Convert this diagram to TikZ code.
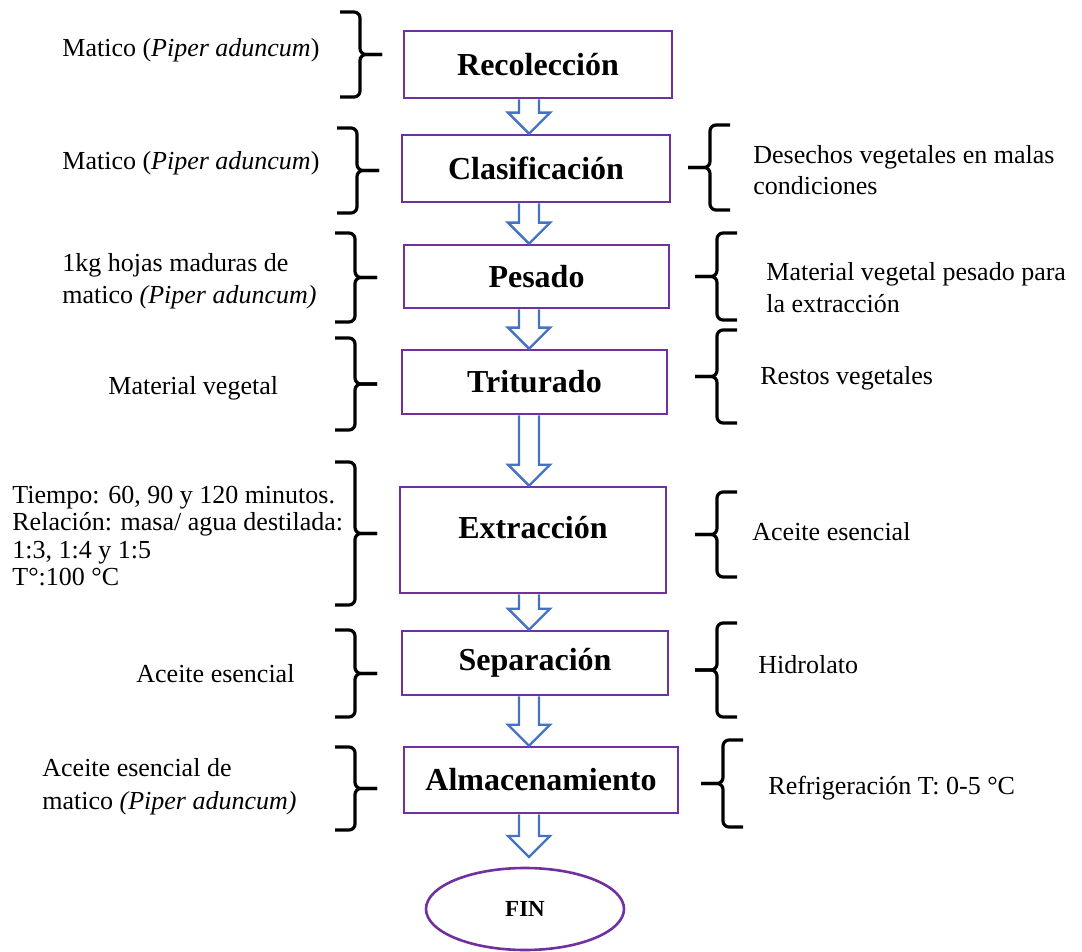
\documentclass[tikz,border=0pt]{standalone}
\usepackage{fontspec}
\setmainfont{Liberation Serif}
\usetikzlibrary{shapes.geometric,calc}

\definecolor{morado}{HTML}{7030A0}
\definecolor{azulflecha}{HTML}{4472C4}

\tikzset{
  paso/.style={draw=morado, line width=1.3pt, inner sep=0pt,
    font=\fontsize{16}{18}\selectfont\bfseries},
  terminal/.style={ellipse, draw=morado, line width=1.3pt, inner sep=0pt,
    minimum width=99pt, minimum height=41pt, font=\fontsize{11.5}{13}\selectfont\bfseries},
  texto/.style={anchor=west, align=left, inner sep=0pt, font=\fontsize{13}{16}\selectfont},
  flechastyle/.style={draw=azulflecha, line width=1.2pt, line join=miter},
  llavestyle/.style={line width=1.6pt, rounded corners=3pt},
}

% flecha hueca entre dos pasos
\newcommand\flecha[2]{%
  \draw[flechastyle] let \p1=(#1 -| eje), \p2=(#2 -| eje) in
    (\x1-5pt,\y1) -- (\x1-5pt,\y2+10.5pt) -- (\x1-10.5pt,\y2+10.5pt) -- (\x1,\y2)
    -- (\x1+10.5pt,\y2+10.5pt) -- (\x1+5pt,\y2+10.5pt) -- (\x1+5pt,\y1);
}

% llave: x de los extremos, arriba, abajo, sentido (1 o -1)
\newcommand\llave[4]{%
  \pgfmathsetmacro\llavemedio{(#2+#3)/2}
  \draw[llavestyle] (#1,#2) -- (#1+20*#4,#2) -- (#1+20*#4,\llavemedio) -- (#1+42*#4,\llavemedio);
  \draw[llavestyle] (#1,#3) -- (#1+20*#4,#3) -- (#1+20*#4,\llavemedio) -- (#1+42*#4,\llavemedio);
}

\begin{document}
\begin{tikzpicture}[x=0.5pt,y=-0.5pt]
\useasboundingbox (0,0) rectangle (1082,952);
\coordinate (eje) at (529,0);

% pasos
\node[paso, minimum width=134pt, minimum height=33.5pt] (recoleccion) at (538,64.5) {Recolección};
\node[paso, minimum width=134pt, minimum height=33.5pt] (clasificacion) at (536,168.5) {Clasificación};
\node[paso, minimum width=132.5pt, minimum height=31.5pt] (pesado) at (536.5,276.5) {Pesado};
\node[paso, minimum width=132.5pt, minimum height=32pt] (triturado) at (534.5,382) {Triturado};
\node[paso, minimum width=133pt, minimum height=53pt, text height=11pt, text depth=13pt] (extraccion) at (533,540) {Extracción};
\node[paso, minimum width=133pt, minimum height=32pt] (separacion) at (535,663) {Separación};
\node[paso, minimum width=137pt, minimum height=33pt] (almacenamiento) at (541,780) {Almacenamiento};
\node[terminal] (fin) at (525,909) {FIN};
\coordinate (finarriba) at (529,857);

% flechas
\flecha{recoleccion.south}{clasificacion.north}
\flecha{clasificacion.south}{pesado.north}
\flecha{pesado.south}{triturado.north}
\flecha{triturado.south}{extraccion.north}
\flecha{extraccion.south}{separacion.north}
\flecha{separacion.south}{almacenamiento.north}
\flecha{almacenamiento.south}{finarriba}

% llaves izquierda
\llave{340}{12}{97}{1}
\llave{337}{128}{213}{1}
\llave{335}{233}{322}{1}
\llave{335}{338}{430}{1}
\llave{335}{462}{605}{1}
\llave{335}{630}{717}{1}
\llave{335}{747}{830}{1}

% llaves derecha
\llave{730}{125}{210}{-1}
\llave{737}{233}{320}{-1}
\llave{737}{330}{423}{-1}
\llave{737}{492}{577}{-1}
\llave{737}{623}{717}{-1}
\llave{743}{740}{827}{-1}

% entradas
\node[texto] (entrada1) at (62,50) {Matico (\textit{Piper aduncum})};
\node[texto] (entrada2) at (62,163) {Matico (\textit{Piper aduncum})};
\node[texto] (entrada3) at (62,281) {1kg hojas maduras de\\matico \textit{(Piper aduncum)}};
\node[texto] (entrada4) at (108,388) {Material vegetal};
\node[texto, font=\fontsize{13}{13.7}\selectfont] (entrada5) at (12,536)
  {Tiempo: 60, 90 y 120 minutos.\\Relación: masa/ agua destilada:\\1:3, 1:4 y 1:5\\T°:100 °C};
\node[texto] (entrada6) at (136,674) {Aceite esencial};
\node[texto, font=\fontsize{13}{16.5}\selectfont] (entrada7) at (42,786.5) {Aceite esencial de\\matico \textit{(Piper aduncum)}};

% salidas
\node[texto, font=\fontsize{13}{15.5}\selectfont] (salida2) at (753,170.5) {Desechos vegetales en malas\\condiciones};
\node[texto] (salida3) at (766,288) {Material vegetal pesado para\\la extracción};
\node[texto] (salida4) at (760,378) {Restos vegetales};
\node[texto] (salida5) at (752,532) {Aceite esencial};
\node[texto] (salida6) at (758,665) {Hidrolato};
\node[texto] (salida7) at (768,788) {Refrigeración T: 0-5 °C};
\end{tikzpicture}
\end{document}
